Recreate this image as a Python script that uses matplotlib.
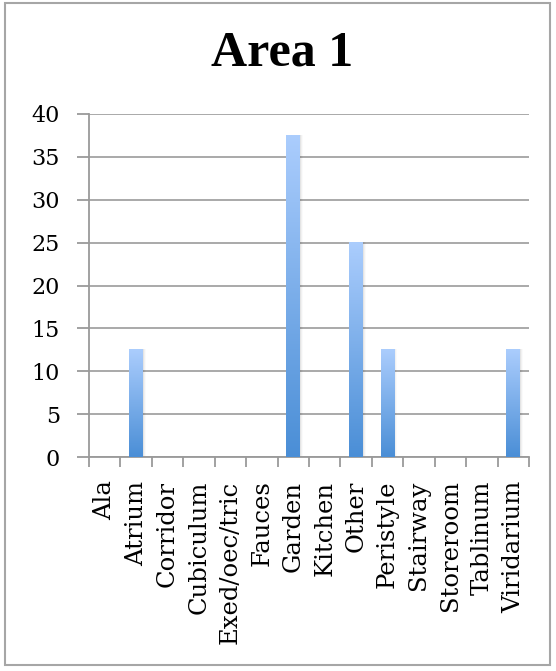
import numpy as np
import matplotlib
matplotlib.use("Agg")
import matplotlib.pyplot as plt
from matplotlib.colors import LinearSegmentedColormap
from matplotlib.patches import Rectangle

categories = ["Ala", "Atrium", "Corridor", "Cubiculum", "Exed/oec/tric", "Fauces",
              "Garden", "Kitchen", "Other", "Peristyle", "Stairway", "Storeroom",
              "Tablinum", "Viridarium"]
values = [0, 12.5, 0, 0, 0, 0, 37.5, 0, 25, 12.5, 0, 0, 0, 12.5]
title = "Area 1"

plt.rcParams["font.family"] = ["DejaVu Serif"]

fig = plt.figure(figsize=(5.56, 6.71), dpi=100)
fig.patches.append(Rectangle((5 / 556, 1 - 665 / 671), 545 / 556, 662 / 671,
                             transform=fig.transFigure, fill=False,
                             edgecolor="#a6a6a6", linewidth=1.5))

ax = fig.add_axes([89 / 556, 1 - 457 / 671, 440 / 556, 343 / 671])
x = np.arange(len(categories))
width = 0.44

grad = LinearSegmentedColormap.from_list("bar", ["#4a8ed6", "#abcdfd"])
gimg = np.linspace(0, 1, 256).reshape(-1, 1)

bars = ax.bar(x, values, width=width, color="none", edgecolor="none", zorder=3)
for b, v in zip(bars, values):
    if v <= 0:
        continue
    x0 = b.get_x()
    # soft drop shadow
    for k, a in enumerate([0.05, 0.035, 0.02]):
        ax.add_patch(Rectangle((x0 + 0.03 + 0.03 * k, 0), width, v + 0.1,
                               facecolor="black", alpha=a, edgecolor="none", zorder=2))
    ax.imshow(gimg, cmap=grad, origin="lower", aspect="auto",
              extent=(x0, x0 + width, 0, v), zorder=3)

ax.set_xlim(-0.5, len(categories) - 0.5)
ax.set_ylim(0, 40)
ax.set_yticks(range(0, 41, 5))
ax.yaxis.grid(True, color="#a3a3a3", linewidth=1.3, zorder=1)
ax.set_axisbelow(True)

ax.set_xticks(x)
ax.set_xticklabels(categories, rotation=90, fontsize=17.5, va="top")
ax.set_xticks(np.arange(-0.5, len(categories), 1), minor=True)
ax.tick_params(axis="x", which="major", length=0, pad=17)
ax.tick_params(axis="x", which="minor", length=7, color="#9a9a9a", width=1.3)
ax.tick_params(axis="y", length=9, color="#9a9a9a", width=1.3, labelsize=16, pad=12)

for s in ["top", "right"]:
    ax.spines[s].set_visible(False)
for s in ["left", "bottom"]:
    ax.spines[s].set_color("#9a9a9a")
    ax.spines[s].set_linewidth(1.3)

fig.text(282 / 556, 1 - 53 / 671, title, ha="center", va="center",
         fontsize=36, fontweight="bold", family="Liberation Serif")

fig.savefig("out.png", dpi=100)
